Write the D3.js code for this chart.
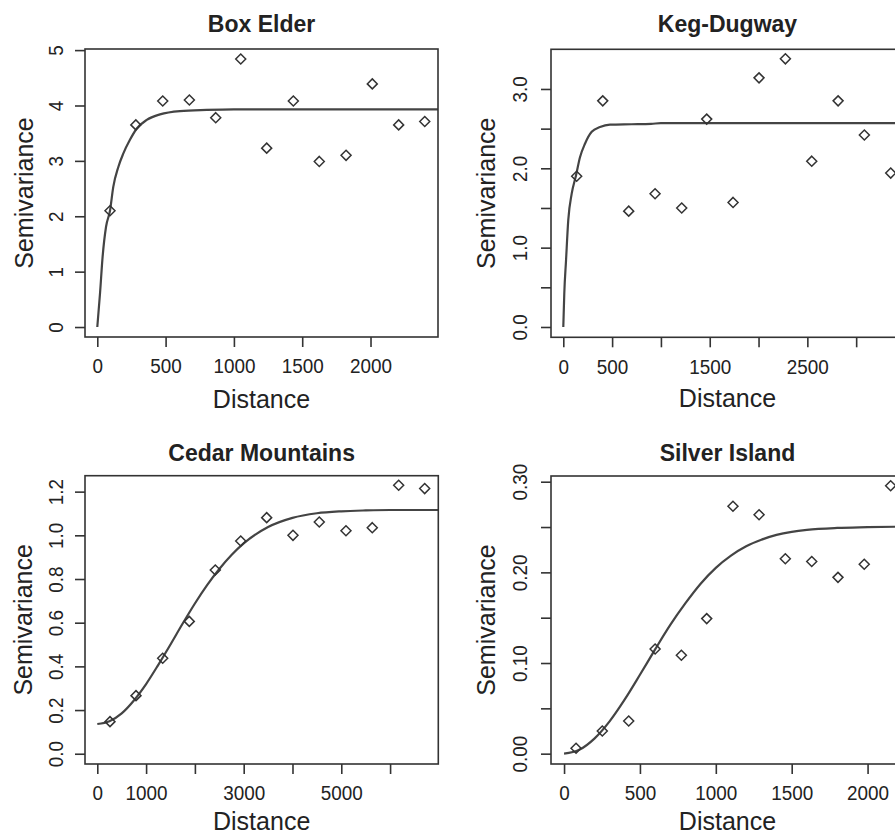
<!DOCTYPE html>
<html>
<head>
<meta charset="utf-8">
<script src="https://cdn.jsdelivr.net/npm/d3@7"></script>
<style>
  body { margin: 0; background: #fff; }
  svg { display: block; }
</style>
</head>
<body>
<div id="chart"></div>
<script>
// === Values ===
const titles = ["Box Elder", "Keg-Dugway", "Cedar Mountains", "Silver Island"];

// Box Elder
const boxElderDist = [93, 282, 479, 674, 867, 1050, 1240, 1435, 1625, 1821, 2013, 2206, 2397];
const boxElderGamma = [2.10, 3.65, 4.08, 4.10, 3.78, 4.84, 3.23, 4.08, 2.99, 3.10, 4.39, 3.65, 3.71];
const boxElderFitDist = [0, 20, 39, 64, 93, 117, 154, 190, 239, 288, 362, 459, 605, 800, 1000, 2500];
const boxElderFitGamma = [0, 0.61, 1.27, 1.81, 2.10, 2.53, 2.89, 3.13, 3.38, 3.58, 3.74, 3.84, 3.90, 3.92, 3.93, 3.93];

// Keg-Dugway
const kegDist = [137, 404, 670, 940, 1213, 1469, 1739, 2005, 2275, 2545, 2815, 3084, 3354];
const kegGamma = [1.90, 2.85, 1.46, 1.68, 1.50, 2.62, 1.57, 3.14, 3.38, 2.09, 2.85, 2.42, 1.94];
const kegFitDist = [0, 10, 28, 51, 86, 130, 171, 222, 291, 376, 478, 700, 900, 1000, 3500];
const kegFitGamma = [0, 0.42, 0.84, 1.35, 1.68, 1.91, 2.14, 2.31, 2.46, 2.52, 2.55, 2.555, 2.56, 2.57, 2.57];

// Cedar Mountains
const cedarDist = [260, 793, 1340, 1885, 2418, 2939, 3471, 4010, 4549, 5096, 5635, 6176, 6709];
const cedarGamma = [0.147, 0.266, 0.437, 0.606, 0.841, 0.974, 1.081, 1.000, 1.061, 1.021, 1.035, 1.229, 1.214];
const cedarFitDist = [0, 250, 500, 750, 1000, 1250, 1500, 1750, 2000, 2250, 2500, 2750, 3000, 3500, 4000, 4500, 5000, 5500, 6000, 7000];
const cedarFitGamma = [0.136, 0.149, 0.185, 0.244, 0.319, 0.407, 0.500, 0.596, 0.688, 0.772, 0.846, 0.910, 0.963, 1.038, 1.080, 1.101, 1.110, 1.114, 1.116, 1.116];

// Silver Island
const silverDist = [79, 252, 426, 600, 773, 940, 1113, 1285, 1458, 1632, 1805, 1978, 2152];
const silverGamma = [0.006, 0.025, 0.036, 0.1155, 0.1085, 0.149, 0.273, 0.2636, 0.215, 0.212, 0.1945, 0.209, 0.2956];
const silverFitDist = [0, 100, 200, 300, 400, 500, 600, 700, 800, 900, 1000, 1100, 1200, 1300, 1400, 1500, 1600, 1800, 2000, 2250];
const silverFitGamma = [0, 0.0042, 0.0166, 0.0356, 0.0598, 0.087, 0.115, 0.142, 0.166, 0.1875, 0.205, 0.2185, 0.2288, 0.236, 0.2413, 0.2447, 0.2469, 0.249, 0.2498, 0.2505];

// Tick values, and which of them carry a label
const boxElderXTicks = [0, 500, 1000, 1500, 2000];
const boxElderXLabels = [0, 500, 1000, 1500, 2000];
const boxElderYTicks = [0, 1, 2, 3, 4, 5];
const boxElderYLabels = [0, 1, 2, 3, 4, 5];

const kegXTicks = [0, 500, 1000, 1500, 2000, 2500, 3000];
const kegXLabels = [0, 500, 1500, 2500];
const kegYTicks = [0, 0.5, 1, 1.5, 2, 2.5, 3];
const kegYLabels = [0, 1, 2, 3];

const cedarXTicks = [0, 1000, 2000, 3000, 4000, 5000, 6000];
const cedarXLabels = [0, 1000, 3000, 5000];
const cedarYTicks = [0, 0.2, 0.4, 0.6, 0.8, 1.0, 1.2];
const cedarYLabels = [0, 0.2, 0.4, 0.6, 0.8, 1.0, 1.2];

const silverXTicks = [0, 500, 1000, 1500, 2000];
const silverXLabels = [0, 500, 1000, 1500, 2000];
const silverYTicks = [0, 0.05, 0.1, 0.15, 0.2, 0.25, 0.3];
const silverYLabels = [0, 0.1, 0.2, 0.3];

const xTitle = "Distance";
const yTitle = "Semivariance";

// === Panel layout (pixels) ===
const width = 895;
const height = 836;
const panels = [
  { title: titles[0], dist: boxElderDist, gamma: boxElderGamma, fitDist: boxElderFitDist, fitGamma: boxElderFitGamma,
    xTicks: boxElderXTicks, xLabels: boxElderXLabels, yTicks: boxElderYTicks, yLabels: boxElderYLabels,
    yFmt: d3.format("d"), box: [85, 438, 49, 337], xDom: [-90, 2494], yDom: [-0.18, 5.02],
    yTickX: 22, yTitleX: 52, titleDy: 16.7, xTitleDy: 71 },
  { title: titles[1], dist: kegDist, gamma: kegGamma, fitDist: kegFitDist, fitGamma: kegFitGamma,
    xTicks: kegXTicks, xLabels: kegXLabels, yTicks: kegYTicks, yLabels: kegYLabels,
    yFmt: d3.format(".1f"), box: [551, 904, 49.3, 337.3], xDom: [-126, 3490], yDom: [-0.13, 3.50],
    yTickX: 24, yTitleX: 56, titleDy: 17, xTitleDy: 70 },
  { title: titles[2], dist: cedarDist, gamma: cedarGamma, fitDist: cedarFitDist, fitGamma: cedarFitGamma,
    xTicks: cedarXTicks, xLabels: cedarXLabels, yTicks: cedarYTicks, yLabels: cedarYLabels,
    yFmt: d3.format(".1f"), box: [85, 438.3, 475.7, 764], xDom: [-252, 6988], yDom: [-0.047, 1.273],
    yTickX: 22, yTitleX: 53, titleDy: 15.2, xTitleDy: 65.5 },
  { title: titles[3], dist: silverDist, gamma: silverGamma, fitDist: silverFitDist, fitGamma: silverFitGamma,
    xTicks: silverXTicks, xLabels: silverXLabels, yTicks: silverYTicks, yLabels: silverYLabels,
    yFmt: d3.format(".2f"), box: [551, 904, 476, 764], xDom: [-86, 2240], yDom: [-0.0114, 0.3063],
    yTickX: 24, yTitleX: 56, titleDy: 15.5, xTitleDy: 65.5 }
];

const font = "'Liberation Sans', Arial, sans-serif";
const ink = "#222";

const svg = d3.select("#chart")
  .append("svg")
  .attr("width", width)
  .attr("height", height)
  .style("font-family", font);

panels.forEach((p, i) => {
  const [x0, x1, y0, y1] = p.box;
  const x = d3.scaleLinear().domain(p.xDom).range([x0, x1]);
  const y = d3.scaleLinear().domain(p.yDom).range([y1, y0]);
  const g = svg.append("g");

  // clip to the plot box
  const clipId = "clip" + i;
  svg.append("clipPath").attr("id", clipId)
    .append("rect").attr("x", x0).attr("y", y0).attr("width", x1 - x0).attr("height", y1 - y0);

  // === Fitted model curve ===
  const fit = p.fitDist.map((d, k) => [d, p.fitGamma[k]]);
  g.append("path")
    .datum(fit)
    .attr("clip-path", `url(#${clipId})`)
    .attr("fill", "none")
    .attr("stroke", "#444")
    .attr("stroke-width", 2.2)
    .attr("d", d3.line().x(d => x(d[0])).y(d => y(d[1])).curve(d3.curveMonotoneX));

  // === Empirical semivariances (open diamonds) ===
  const pts = p.dist.map((d, k) => [d, p.gamma[k]]);
  const r = 5;
  g.selectAll("path.pt")
    .data(pts)
    .enter()
    .append("path")
    .attr("class", "pt")
    .attr("d", `M0,${-r}L${r},0L0,${r}L${-r},0Z`)
    .attr("transform", d => `translate(${x(d[0])},${y(d[1])})`)
    .attr("fill", "none")
    .attr("stroke", "#333")
    .attr("stroke-width", 1.5);

  // === Box ===
  g.append("rect")
    .attr("x", x0).attr("y", y0)
    .attr("width", x1 - x0).attr("height", y1 - y0)
    .attr("fill", "none")
    .attr("stroke", "#333")
    .attr("stroke-width", 1.6);

  // === Axes ===
  const xAxis = g.append("g")
    .attr("transform", `translate(0,${y1})`)
    .call(d3.axisBottom(x).tickValues(p.xTicks).tickSize(10).tickSizeOuter(0)
      .tickFormat(d => p.xLabels.includes(d) ? d3.format("d")(d) : ""));
  xAxis.select(".domain").remove();
  xAxis.selectAll("line").attr("stroke", "#333").attr("stroke-width", 1.6);
  xAxis.selectAll("text")
    .attr("y", 36.3).attr("dy", null)
    .attr("transform", "scale(0.9,1)")
    .attr("fill", ink)
    .style("font-size", "21px").style("font-family", font);

  const yAxis = g.append("g")
    .attr("transform", `translate(${x0},0)`)
    .call(d3.axisLeft(y).tickValues(p.yTicks).tickSize(10).tickSizeOuter(0)
      .tickFormat(d => p.yLabels.some(v => Math.abs(v - d) < 1e-9) ? p.yFmt(d) : ""));
  yAxis.select(".domain").remove();
  yAxis.selectAll("line").attr("stroke", "#333").attr("stroke-width", 1.6);
  yAxis.selectAll("text")
    .attr("x", null).attr("dy", null)
    .attr("text-anchor", "middle")
    .attr("transform", `translate(${-p.yTickX},0) rotate(-90) scale(0.9,1)`)
    .attr("fill", ink)
    .style("font-size", "21px").style("font-family", font);

  // === Titles ===
  const cx = (x0 + x1) / 2;
  g.append("text")
    .attr("x", cx).attr("y", y0 - p.titleDy)
    .attr("text-anchor", "middle")
    .attr("font-weight", "bold")
    .attr("font-size", "23px")
    .attr("fill", ink)
    .text(p.title);

  g.append("text")
    .attr("x", cx).attr("y", y1 + p.xTitleDy)
    .attr("text-anchor", "middle")
    .attr("font-size", "25px")
    .attr("fill", ink)
    .text(xTitle);

  g.append("text")
    .attr("transform", `translate(${x0 - p.yTitleX},${(y0 + y1) / 2}) rotate(-90)`)
    .attr("text-anchor", "middle")
    .attr("font-size", "25px")
    .attr("fill", ink)
    .text(yTitle);
});
</script>
</body>
</html>
